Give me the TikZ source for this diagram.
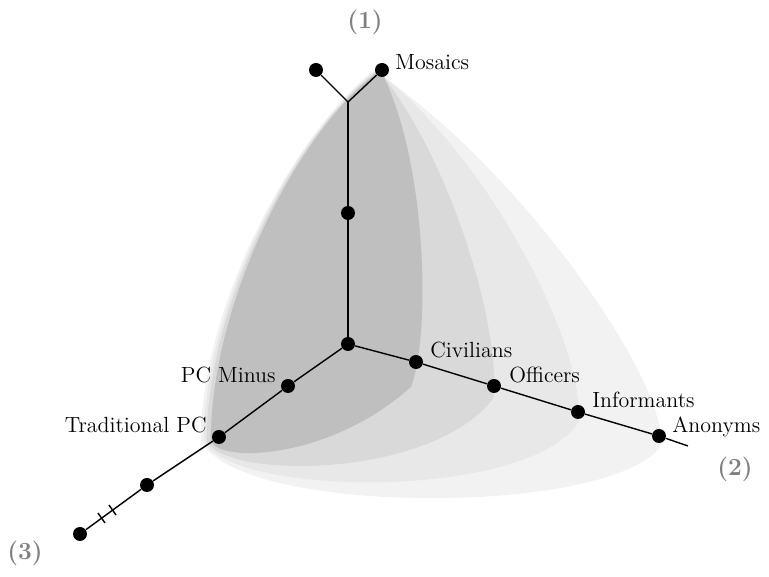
\documentclass[tikz,border=0pt]{standalone}
\usepackage{xcolor}
\usepackage{tikz}
\usetikzlibrary{positioning}

\tikzset{
  dot/.style={circle, fill=black, inner sep=0pt, minimum size=0.28cm},
  lab/.style={font=\fontsize{12.5}{14}\selectfont, inner sep=0pt},
  axnum/.style={font=\fontsize{14}{16}\selectfont\bfseries, text=black!50},
  axis/.style={line width=0.8pt},
  shell/.style={draw=#1, fill=#1, line width=1.5pt, line join=round}
}

\begin{document}
\begin{tikzpicture}[x=0.02cm, y=-0.02cm]
\useasboundingbox (0,0) rectangle (769,577);
% shells, outermost first
\path[shell=black!5] (374,72) .. controls (300,130) and (203,300) .. (202,440)
  .. controls (240,515) and (610,515) .. (660,445)
  .. controls (665,380) and (520,170) .. (374,72);
\path[shell=black!9] (376,72) .. controls (300,130) and (206,300) .. (205,440)
  .. controls (230,495) and (525,500) .. (577,422)
  .. controls (585,350) and (490,160) .. (376,72);
\path[shell=black!15] (378,72) .. controls (300,130) and (209,300) .. (208,440)
  .. controls (225,478) and (430,478) .. (492,398)
  .. controls (500,330) and (450,160) .. (378,72);
\path[shell=black!25] (380,72) .. controls (300,130) and (213,300) .. (212,440)
  .. controls (220,462) and (330,458) .. (410,386)
  .. controls (430,330) and (425,160) .. (380,72);
% axis (1)
\node[dot] (o) at (348,344) {};
\node[dot] (mid) at (348,213) {};
\coordinate (fork) at (348,102);
\node[dot] (twin) at (316,70) {};
\node[dot] (mos) at (382,70) {};
\draw[line width=1.1pt] (o) -- (mid) -- (fork);
\draw[axis] (fork) -- (twin) (fork) -- (mos);
% axis (2)
\node[dot] (civ) at (416,362) {};
\node[dot] (off) at (494,386) {};
\node[dot] (inf) at (578,412) {};
\node[dot] (ano) at (659,436) {};
\coordinate (end2) at (688,446);
\draw[axis] (o) -- (civ) -- (off) -- (inf) -- (ano) -- (end2);
% axis (3)
\node[dot] (pcm) at (288,386) {};
\node[dot] (tpc) at (219,437) {};
\node[dot] (far) at (147,485) {};
\node[dot] (last) at (80,534) {};
\draw[axis] (o) -- (pcm) -- (tpc) -- (far) -- (last);
% break marks
\draw[axis] (98,513) -- (105,523) (109,505) -- (116,515);
% labels
\node[lab, anchor=base west] (mosL) at ([shift={(13,0)}]mos) {Mosaics};
\node[lab, anchor=base west] (civL) at ([shift={(14,-4)}]civ) {Civilians};
\node[lab, anchor=base west] (offL) at ([shift={(15,-3)}]off) {Officers};
\node[lab, anchor=base west] (infL) at ([shift={(14,-4)}]inf) {Informants};
\node[lab, anchor=base west] (anoL) at ([shift={(13,-3)}]ano) {Anonyms};
\node[lab, anchor=base east] (pcmL) at ([shift={(-12,-3)}]pcm) {PC Minus};
\node[lab, anchor=base east] (tpcL) at ([shift={(-12,-4)}]tpc) {Traditional PC};
\node[axnum] (n1) at (365,22) {(1)};
\node[axnum] (n2) at (735,469) {(2)};
\node[axnum] (n3) at (25,553) {(3)};
\end{tikzpicture}
\end{document}
